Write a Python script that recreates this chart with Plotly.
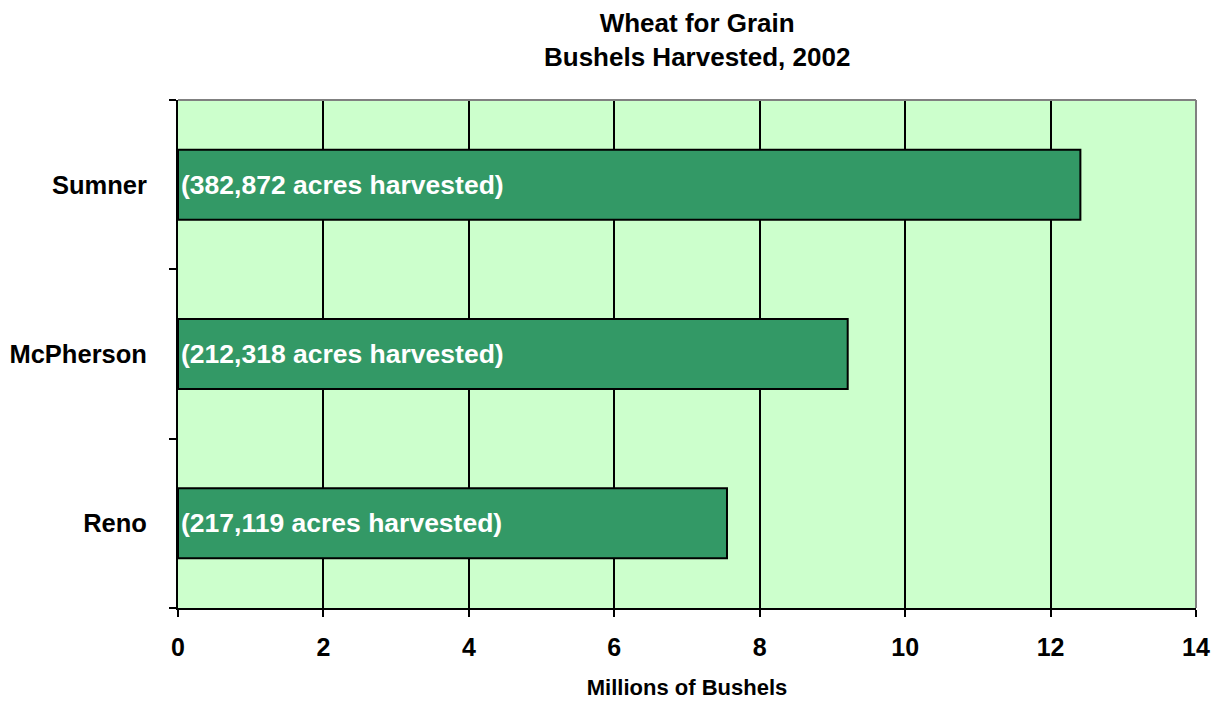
import plotly.graph_objects as go

counties = ["Reno", "McPherson", "Sumner"]
bushels_millions = [7.55, 9.21, 12.41]
acres_labels = ["(217,119 acres harvested)", "(212,318 acres harvested)", "(382,872 acres harvested)"]
x_ticks = [0, 2, 4, 6, 8, 10, 12, 14]

FONT = "Liberation Sans, Arial, sans-serif"

fig = go.Figure()
fig.add_trace(go.Bar(
    y=counties, x=bushels_millions, orientation="h",
    text=acres_labels, textposition="inside", insidetextanchor="start",
    constraintext="none",
    textfont=dict(family=FONT, size=26.5, color="white", weight="bold"),
    marker=dict(color="#339966", line=dict(color="black", width=2)),
    hoverinfo="x+y",
))

# grey top and right frame of the plot area
fig.add_shape(type="line", xref="paper", yref="paper", x0=0, x1=1, y0=1, y1=1,
              line=dict(color="#808080", width=2), layer="above")
fig.add_shape(type="line", xref="paper", yref="paper", x0=1, x1=1, y0=0, y1=1,
              line=dict(color="#808080", width=2), layer="above")

fig.update_layout(
    width=1223, height=704,
    margin=dict(l=170, r=35, t=92, b=104),
    paper_bgcolor="white", plot_bgcolor="#CCFFCC",
    bargap=0.587,
    showlegend=False,
    font=dict(family=FONT, color="black"),
    title=dict(text="<b>Wheat for Grain<br>Bushels Harvested, 2002</b>",
               x=0.51, xref="paper", xanchor="center", y=0.966, yanchor="top",
               pad=dict(t=0),
               font=dict(family=FONT, size=26, color="black")),
    xaxis=dict(range=[0, 14], tickvals=x_ticks, ticktext=[str(v) for v in x_ticks],
               automargin=False,
               showgrid=True, gridcolor="black", gridwidth=2,
               showline=True, linecolor="black", linewidth=2,
               ticks="outside", ticklen=7, tickwidth=2, tickcolor="black",
               zeroline=False, ticklabelstandoff=9,
               tickfont=dict(family=FONT, size=25, weight="bold"),
               title=dict(text="<b>Millions of Bushels</b>", standoff=20,
                          font=dict(family=FONT, size=22))),
    yaxis=dict(automargin=False,
               showgrid=False, showline=True, linecolor="black", linewidth=2,
               ticks="outside", tickson="boundaries", ticklen=7, tickwidth=2, tickcolor="black",
               ticklabelstandoff=24,
               tickfont=dict(family=FONT, size=25.5, weight="bold")),
)

fig.write_html("out.html")
